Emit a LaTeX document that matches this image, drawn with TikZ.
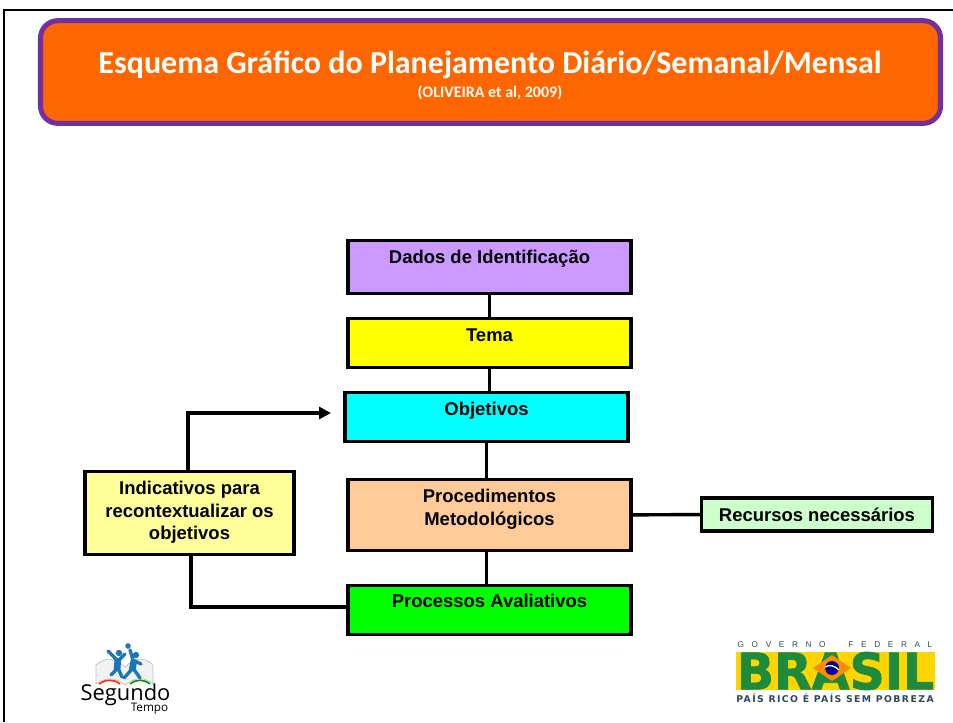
\documentclass[tikz,border=0pt]{standalone}
\usepackage{fontspec}
\setmainfont{Liberation Sans}
\newfontfamily\carlito{Carlito}
\newfontfamily\dejavu{DejaVu Sans}
\newfontfamily\opensans{Open Sans}
\usetikzlibrary{positioning,calc,arrows.meta}
\definecolor{roxo}{HTML}{7030A0}
\definecolor{laranja}{HTML}{FF6600}
\definecolor{lilas}{HTML}{CC99FF}
\definecolor{amarelo}{HTML}{FFFF00}
\definecolor{ciano}{HTML}{00FFFF}
\definecolor{pessego}{HTML}{FFCC99}
\definecolor{verde}{HTML}{00FF00}
\definecolor{creme}{HTML}{FFFF99}
\definecolor{menta}{HTML}{CCFFCC}
\definecolor{azulfig}{HTML}{1B75BB}
\definecolor{verdebr}{HTML}{1E8A3C}
\definecolor{amarelobr}{HTML}{FFD500}
\definecolor{ardosia}{HTML}{2F4858}
\tikzset{>={Triangle[length=9pt,width=9pt]}}
\tikzset{
  bloco/.style={draw,line width=2.6pt,inner sep=0pt,align=center,minimum width=212pt,text height=10pt,
    font=\fontsize{13.85}{16.8}\selectfont\bfseries},
  liga/.style={line width=2.6pt},
}
\begin{document}
\begin{tikzpicture}[x=.75pt,y=-.75pt]
\useasboundingbox (0,0) rectangle (953,722);
\draw[line width=1.6pt] (4,722) -- (4,10) -- (953,10);
% titulo
\node[draw=roxo,fill=laranja,line width=3.8pt,rounded corners=13pt,minimum width=675pt,minimum height=77pt] (titulo) at (490.5,72) {};
\node[text=white,font=\carlito\fontsize{24}{26}\selectfont\bfseries] (nome) at (490,65) {Esquema Gráfico do Planejamento Diário/Semanal/Mensal};
\node[text=white,font=\carlito\fontsize{12}{14}\selectfont\bfseries] (fonte) at (490,93) {(OLIVEIRA et al, 2009)};
% blocos
\node[bloco,fill=lilas,minimum height=40pt,text depth=16pt] (dados) at (489.5,267) {Dados de Identificação};
\node[bloco,fill=amarelo,minimum height=37pt,text depth=13pt] (tema) at (489.5,343) {Tema};
\node[bloco,fill=ciano,minimum height=37pt,text depth=13pt] (obj) at (486.5,417) {Objetivos};
\node[bloco,fill=pessego,minimum height=53pt,text height=25pt,text depth=9.8pt] (proc) at (489.5,515) {Procedimentos\\Metodológicos};
\node[bloco,fill=verde,minimum height=37pt,text depth=13.5pt] (aval) at (489.5,610) {Processos Avaliativos};
\node[bloco,fill=creme,minimum width=157pt,minimum height=62pt,text height=46pt,text depth=6pt] (ind) at (189.5,513) {Indicativos para\\recontextualizar os\\objetivos};
\node[bloco,fill=menta,minimum width=173pt,minimum height=25pt,text depth=0pt] (rec) at (817,514.5) {Recursos necessários};
% ligacoes
\draw[liga] (dados) -- (tema);
\draw[liga] (tema.south) -- (tema.south |- obj.north);
\draw[liga] (obj.south) -- (obj.south |- proc.north);
\draw[liga] (aval.north -| obj.south) -- (proc.south -| obj.south);
\draw[liga] (proc) -- (rec);
\coordinate (seta) at (331,413);
\draw[liga,->] (ind.north -| 188,0) -- (188,413) -- (seta);
\draw[liga] (ind.south -| 191,0) -- (191,607) -- (aval.west |- 0,607);
% logo segundo tempo
\fill[gray!10,draw=gray!50,line width=.5pt] (125,685) .. controls (115,677) and (105,677) .. (96,684) -- (96,665) .. controls (105,657) and (115,657) .. (125,667) .. controls (135,657) and (145,657) .. (153,665) -- (153,684) .. controls (145,677) and (135,677) .. (125,685) -- cycle;
\draw[line width=1.2pt,red!70!orange] (99,684) .. controls (106,679) and (114,679) .. (120,684);
\draw[line width=1.2pt,green!60!black] (130,684) .. controls (136,679) and (144,679) .. (150,684);
\draw[azulfig,line width=2.5pt,line cap=round] (118,668) -- (111,675) (118,668) -- (122,677) (108,651) -- (118,661) -- (125,654);
\draw[azulfig,line width=5pt] (118,658) -- (117,670);
\draw[azulfig,line width=2.5pt,line cap=round] (133,668) -- (124,678) (133,668) -- (140,678) (130,650) -- (133,660) -- (141,664);
\draw[azulfig,line width=5pt] (134,660) -- (132,671);
\fill[azulfig] (119,653) circle [radius=3.2];
\fill[azulfig] (128,646) circle [radius=2.8];
\fill[azulfig] (136,655) circle [radius=3.2];
\node[font=\opensans\fontsize{16.4}{18}\selectfont,inner sep=0pt] (segundo) at (125.5,695) {Segundo};
\node[font=\opensans\fontsize{8.8}{10}\selectfont,inner sep=0pt] (tempo) at (149.5,709) {Tempo};
% logo brasil
\node[font=\fontsize{6.2}{7}\selectfont,text=ardosia,inner sep=0pt] (gov) at (835,645) {\hbox to 146pt{G\hfill O\hfill V\hfill E\hfill R\hfill N\hfill O\hfill\hfill\hfill F\hfill E\hfill D\hfill E\hfill R\hfill A\hfill L}};
\node[fill=amarelobr,inner sep=0pt,minimum width=149pt,minimum height=29pt] (faixa) at (835.5,671) {};
\node[text=verdebr,inner sep=0pt] (brasil) at (faixa) {\resizebox{148pt}{28pt}{\dejavu\bfseries\addfontfeature{FakeBold=1.5}BRASIL}};
\fill[orange!90!yellow] (813,668) -- (832,655) -- (851,668) -- (832,681) -- cycle;
\fill[blue!60!black] (832,668) circle [radius=7];
\draw[white,line width=1pt] (825,667) .. controls (830,664) and (835,666) .. (839,670);
\node[font=\dejavu\fontsize{7}{7}\selectfont\bfseries\addfontfeature{LetterSpace=15},text=ardosia,inner sep=0pt] (pais) at (835,698.5) {PAÍS RICO É PAÍS SEM POBREZA};
\end{tikzpicture}
\end{document}
